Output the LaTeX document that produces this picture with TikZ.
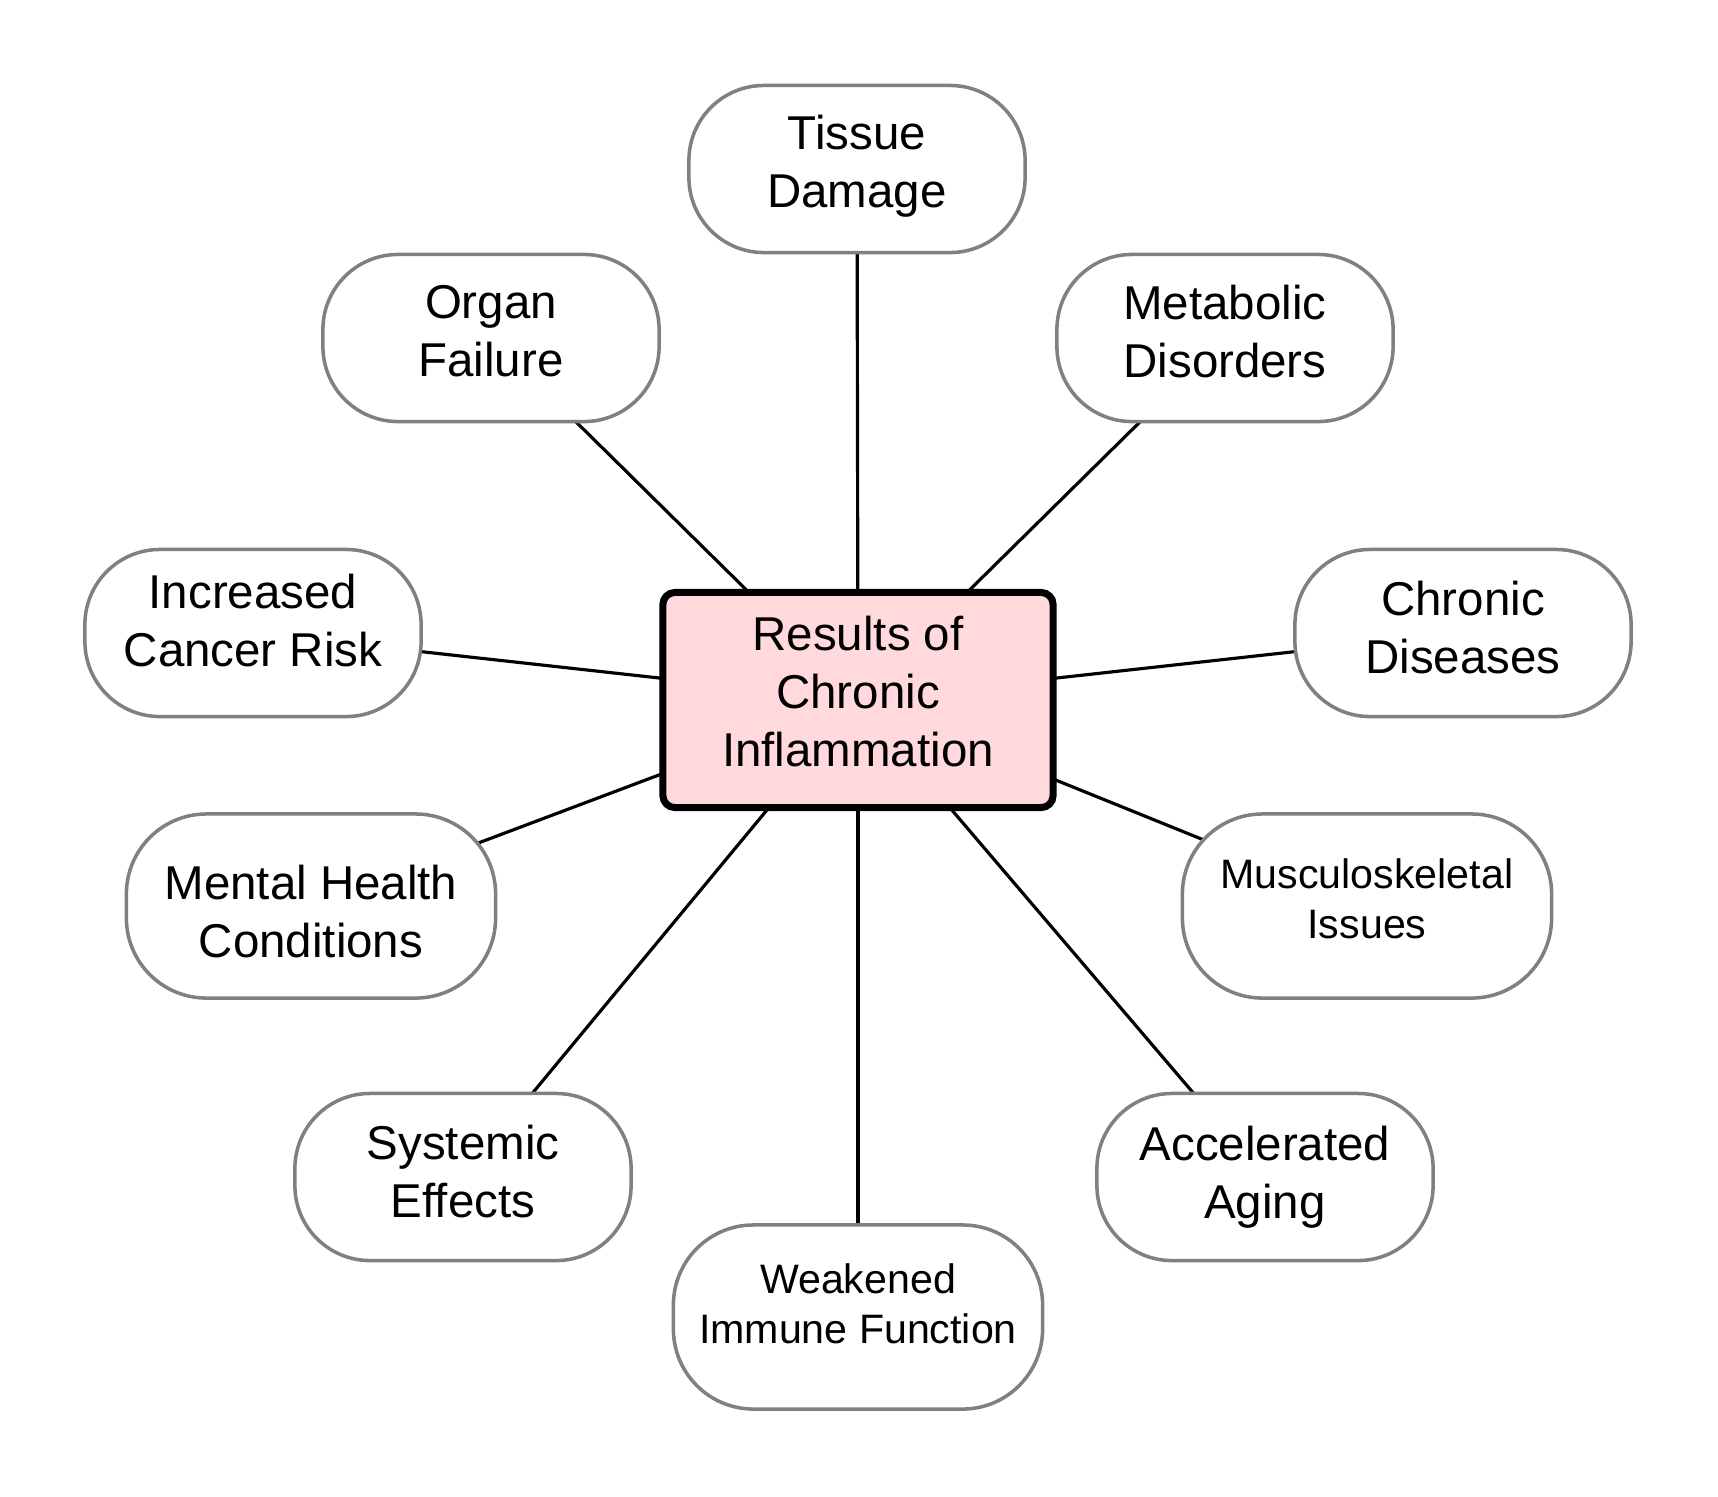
\documentclass[tikz,border=0pt]{standalone}
\usepackage{fontspec}
\setmainfont{Liberation Sans}
\definecolor{hubpink}{RGB}{255,217,219}
\definecolor{rimgrey}{RGB}{128,128,128}
\usetikzlibrary{backgrounds}

\begin{document}
\begin{tikzpicture}[x=0.01cm,y=-0.01cm]

%
% Styles
%
\tikzstyle{hub}    = [rectangle,rounded corners=0.12cm,draw=black,line width=2pt,fill=hubpink,minimum width=3.9cm,minimum height=2.15cm,align=center,font=\fontsize{13.5}{16.5}\selectfont]
\tikzstyle{effect} = [rectangle,rounded corners=0.75cm,draw=rimgrey,line width=1pt,fill=white,minimum width=3.36cm,minimum height=1.67cm,align=center,font=\fontsize{13.5}{16.5}\selectfont]
\tikzstyle{widefx} = [effect,rounded corners=0.8cm,minimum width=3.69cm,minimum height=1.84cm]
\tikzstyle{smallfx}= [widefx,font=\fontsize{11.7}{14}\selectfont]
\tikzstyle{link}   = [draw=black,line width=0.9pt]

\useasboundingbox (0,0) rectangle (1718,1496);

\node[hub,text depth=0.18cm] (hub) at (858,700) {Results of\\Chronic\\Inflammation};

\node[effect,text depth=0.16cm]   (tissue)    at ( 857, 169) {Tissue\\Damage};
\node[effect,text depth=0.15cm]   (organ)     at ( 491, 338) {Organ\\Failure};
\node[effect,text depth=0.13cm]   (metabolic) at (1225, 338) {Metabolic\\Disorders};
\node[effect,text depth=0.25cm]   (cancer)    at ( 253, 633) {Increased\\Cancer Risk};
\node[effect,text depth=0.12cm]   (chronic)   at (1463, 633) {Chronic\\Diseases};
\node[widefx,text height=1.04cm]  (mental)    at ( 311, 906) {Mental Health\\Conditions};
\node[smallfx,text depth=0.15cm]  (muscle)    at (1367, 906) {Musculoskeletal\\Issues};
\node[effect,text depth=0.11cm]   (systemic)  at ( 463,1177) {Systemic\\Effects};
\node[effect]                     (aging)     at (1265,1177) {Accelerated\\Aging};
\node[smallfx,text depth=0.27cm]  (immune)    at ( 858,1317) {Weakened\\Immune Function};

\begin{scope}[on background layer]
\foreach \n in {tissue,organ,metabolic,cancer,chronic,mental,muscle,systemic,aging,immune}
  \draw[link] (hub.center) -- (\n.center);
\end{scope}

\end{tikzpicture}
\end{document}
